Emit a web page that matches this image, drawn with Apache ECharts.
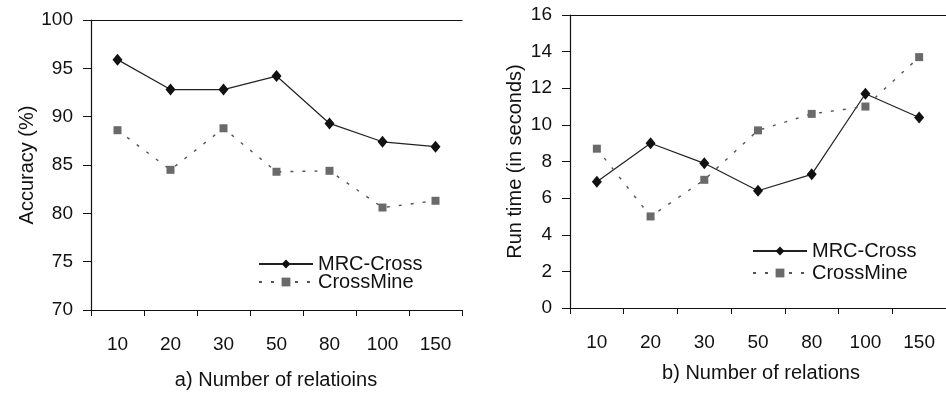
<!DOCTYPE html>
<html>
<head>
<meta charset="utf-8">
<script src="https://cdn.jsdelivr.net/npm/echarts@6/dist/echarts.min.js"></script>
<style>
  html, body { margin: 0; padding: 0; background: #fff; }
  #chart { width: 946px; height: 393px; }
</style>
</head>
<body>
<div id="chart"></div>
<script>
// Category labels shared by both panels
const relations = ['10', '20', '30', '50', '80', '100', '150'];

// Panel a) accuracy (%)
const accMRC = [95.9, 92.8, 92.8, 94.2, 89.3, 87.4, 86.9];
const accCrossMine = [88.6, 84.5, 88.8, 84.3, 84.4, 80.6, 81.3];

// Panel b) run time in seconds
const timeMRC = [6.9, 9.0, 7.9, 6.4, 7.3, 11.7, 10.4];
const timeCrossMine = [8.7, 5.0, 7.0, 9.7, 10.6, 11.0, 13.7];

const FONT = 'Liberation Sans, Arial, sans-serif';
const INK = '#111';
const GREY = '#6a6a6a';

const chart = echarts.init(document.getElementById('chart'), null, { renderer: 'canvas' });

function bottomAxis(grid) {
  return {
    type: 'category', gridIndex: grid, data: relations, boundaryGap: true,
    axisLine: { show: true, lineStyle: { color: INK, width: 1.2 } },
    axisTick: { show: true, inside: false, length: 6, alignWithLabel: false, lineStyle: { color: INK } },
    axisLabel: { color: INK, fontFamily: FONT, fontSize: 19, margin: 25 },
    splitLine: { show: false }
  };
}
function topBorder(grid) {
  return {
    type: 'category', gridIndex: grid, data: relations, position: 'top',
    axisLine: { show: true, onZero: false, lineStyle: { color: INK, width: 1.2 } },
    axisTick: { show: false }, axisLabel: { show: false }, splitLine: { show: false }
  };
}
function valueAxis(grid, min, max, step, name, gap) {
  return {
    type: 'value', gridIndex: grid, min: min, max: max, interval: step,
    name: name, nameLocation: 'middle', nameGap: gap,
    nameTextStyle: { color: INK, fontFamily: FONT, fontSize: 20 },
    axisLine: { show: true, lineStyle: { color: INK, width: 1.2 } },
    axisTick: { show: true, inside: false, length: 8, lineStyle: { color: INK } },
    axisLabel: { color: INK, fontFamily: FONT, fontSize: 19, margin: 18 },
    splitLine: { show: false }
  };
}
function mrcSeries(x, y, data) {
  return {
    name: 'MRC-Cross', type: 'line', xAxisIndex: x, yAxisIndex: y, data: data,
    symbol: 'diamond', symbolSize: [10, 12],
    lineStyle: { color: '#222', width: 1.2 },
    itemStyle: { color: '#111' }, animation: false
  };
}
function crossMineSeries(x, y, data) {
  return {
    name: 'CrossMine', type: 'line', xAxisIndex: x, yAxisIndex: y, data: data,
    symbol: 'rect', symbolSize: 8,
    lineStyle: { color: '#555', width: 1.4, type: [3, 9] },
    itemStyle: { color: GREY }, animation: false
  };
}
function legend(left, top, gap) {
  return {
    left: left, top: top, orient: 'vertical', itemWidth: 54, itemHeight: 11, itemGap: gap,
    data: ['MRC-Cross', 'CrossMine'],
    textStyle: { color: INK, fontFamily: FONT, fontSize: 20, lineHeight: 16, padding: [0, 0, 0, 0] },
    selectedMode: false
  };
}

chart.setOption({
  backgroundColor: '#fff',
  animation: false,
  grid: [
    { left: 91, top: 20, right: 484, bottom: 83, containLabel: false },
    { left: 570, top: 15, right: -9, bottom: 85, containLabel: false }
  ],
  xAxis: [bottomAxis(0), bottomAxis(1), topBorder(0), topBorder(1)],
  yAxis: [
    valueAxis(0, 70, 100, 5, 'Accuracy (%)', 53),
    valueAxis(1, 0, 16, 2, 'Run time (in seconds)', 45)
  ],
  legend: [legend(253, 249, -2), legend(747, 236, 2)],
  series: [
    mrcSeries(0, 0, accMRC),
    crossMineSeries(0, 0, accCrossMine),
    mrcSeries(1, 1, timeMRC),
    crossMineSeries(1, 1, timeCrossMine)
  ],
  graphic: [
    { type: 'text', x: 276, y: 380, silent: true,
      style: { text: 'a) Number of relatioins', align: 'center', verticalAlign: 'middle',
               fill: INK, font: '20px ' + FONT } },
    { type: 'text', x: 761, y: 373, silent: true,
      style: { text: 'b) Number of relations', align: 'center', verticalAlign: 'middle',
               fill: INK, font: '20px ' + FONT } }
  ]
});
</script>
</body>
</html>
